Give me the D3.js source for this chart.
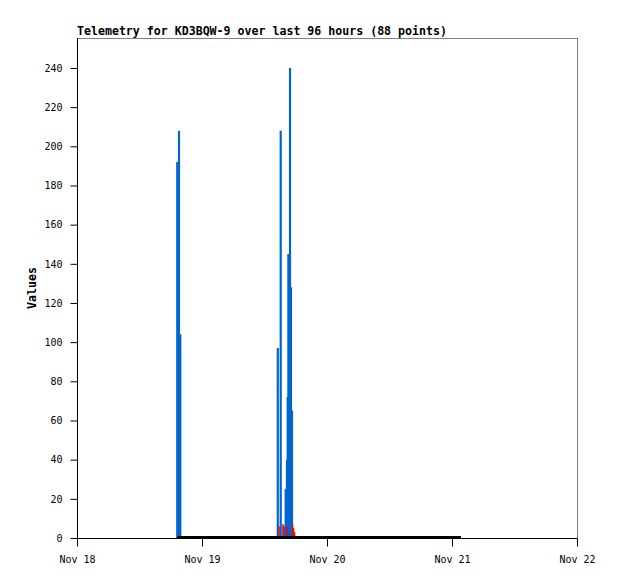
<!DOCTYPE html>
<html>
<head>
<meta charset="utf-8">
<script src="https://cdn.jsdelivr.net/npm/d3@7"></script>
<style>
  body { margin: 0; background: #fff; }
  text { font-family: "DejaVu Sans Mono", monospace; }
</style>
</head>
<body>
<div id="chart"></div>
<script>
// telemetry channels, [time, value], drawn as impulses
var blueData = [
    ["2021-11-18 19:15", 192], ["2021-11-18 19:35", 208], ["2021-11-18 19:50", 104],
    ["2021-11-19 14:33", 97], ["2021-11-19 15:07", 208], ["2021-11-19 15:48", 6],
    ["2021-11-19 16:04", 25], ["2021-11-19 16:19", 40], ["2021-11-19 16:27", 72],
    ["2021-11-19 16:35", 145], ["2021-11-19 16:54", 240], ["2021-11-19 17:05", 128],
    ["2021-11-19 17:17", 65]
];
var redData = [
    ["2021-11-19 14:47", 6], ["2021-11-19 15:33", 7], ["2021-11-19 16:16", 6],
    ["2021-11-19 17:23", 7], ["2021-11-19 17:34", 5], ["2021-11-19 17:46", 3],
    ["2021-11-19 17:55", 1]
];
// channel that stays at zero for the whole span
var blackData = [
    ["2021-11-18 19:12", 0], ["2021-11-21 01:44", 0]
];
var xTickDates = ["2021-11-18", "2021-11-19", "2021-11-20", "2021-11-21", "2021-11-22"];
var xTickLabels = ["Nov 18", "Nov 19", "Nov 20", "Nov 21", "Nov 22"];
var yTicks = [0, 20, 40, 60, 80, 100, 120, 140, 160, 180, 200, 220, 240];
var titleText = "Telemetry for KD3BQW-9 over last 96 hours (88 points)";

var parseTime = d3.utcParse("%Y-%m-%d %H:%M");
var parseDay = d3.utcParse("%Y-%m-%d");

var plotL = 77, plotR = 577, plotT = 38, plotB = 538;

var svg = d3.select("#chart").append("svg")
    .attr("width", 618)
    .attr("height", 579);

var x = d3.scaleUtc()
    .domain([parseDay(xTickDates[0]), parseDay(xTickDates[xTickDates.length - 1])])
    .range([plotL, plotR]);

var y = d3.scaleLinear()
    .domain([0, 255.3])
    .range([plotB, plotT]);

// frame
svg.append("rect")
    .attr("x", plotL + 0.5).attr("y", plotT + 0.5)
    .attr("width", plotR - plotL).attr("height", plotB - plotT)
    .attr("fill", "none")
    .attr("stroke", "#808080");

function impulses(data, color, width) {
    svg.append("g").selectAll("line")
        .data(data)
        .enter()
        .append("line")
        .attr("x1", d => x(parseTime(d[0])))
        .attr("x2", d => x(parseTime(d[0])))
        .attr("y1", y(0))
        .attr("y2", d => y(d[1]))
        .attr("stroke", color)
        .attr("stroke-width", width);
}

impulses(blueData, "#0066cc", 2.2);
impulses(redData, "#ff0000", 1.6);

var line = d3.line()
    .x(d => x(parseTime(d[0])))
    .y(d => y(d[1]));

svg.append("path").datum(blackData)
    .attr("d", line)
    .attr("fill", "none")
    .attr("stroke", "#000")
    .attr("stroke-width", 2)
    .attr("transform", "translate(0,-1)");

// axes
var xAxis = d3.axisBottom(x)
    .tickValues(xTickDates.map(parseDay))
    .tickFormat((d, i) => xTickLabels[i])
    .tickSize(8)
    .tickSizeOuter(0)
    .tickPadding(9);

var gx = svg.append("g")
    .attr("transform", "translate(0," + (plotB + 0.5) + ")")
    .call(xAxis);

var yAxis = d3.axisLeft(y)
    .tickValues(yTicks)
    .tickSize(7)
    .tickSizeOuter(0)
    .tickPadding(8);

var gy = svg.append("g")
    .attr("transform", "translate(" + (plotL + 0.5) + ",0)")
    .call(yAxis);

[gx, gy].forEach(g => {
    g.select(".domain").attr("stroke", "#000");
    g.selectAll(".tick line").attr("stroke", "#000");
    g.selectAll("text")
        .attr("font-family", "DejaVu Sans Mono")
        .attr("font-size", 10)
        .attr("fill", "#000");
});
gx.select(".domain").attr("d", "M" + plotL + ",0H" + plotR);
gy.select(".domain").attr("d", "M0," + plotT + "V" + plotB);

svg.append("text")
    .attr("x", plotL)
    .attr("y", 35)
    .attr("font-size", 11.6)
    .attr("font-weight", "bold")
    .text(titleText);

svg.append("text")
    .attr("transform", "translate(36," + ((plotT + plotB) / 2) + ") rotate(-90)")
    .attr("text-anchor", "middle")
    .attr("font-size", 11.6)
    .attr("font-weight", "bold")
    .text("Values");
</script>
</body>
</html>
